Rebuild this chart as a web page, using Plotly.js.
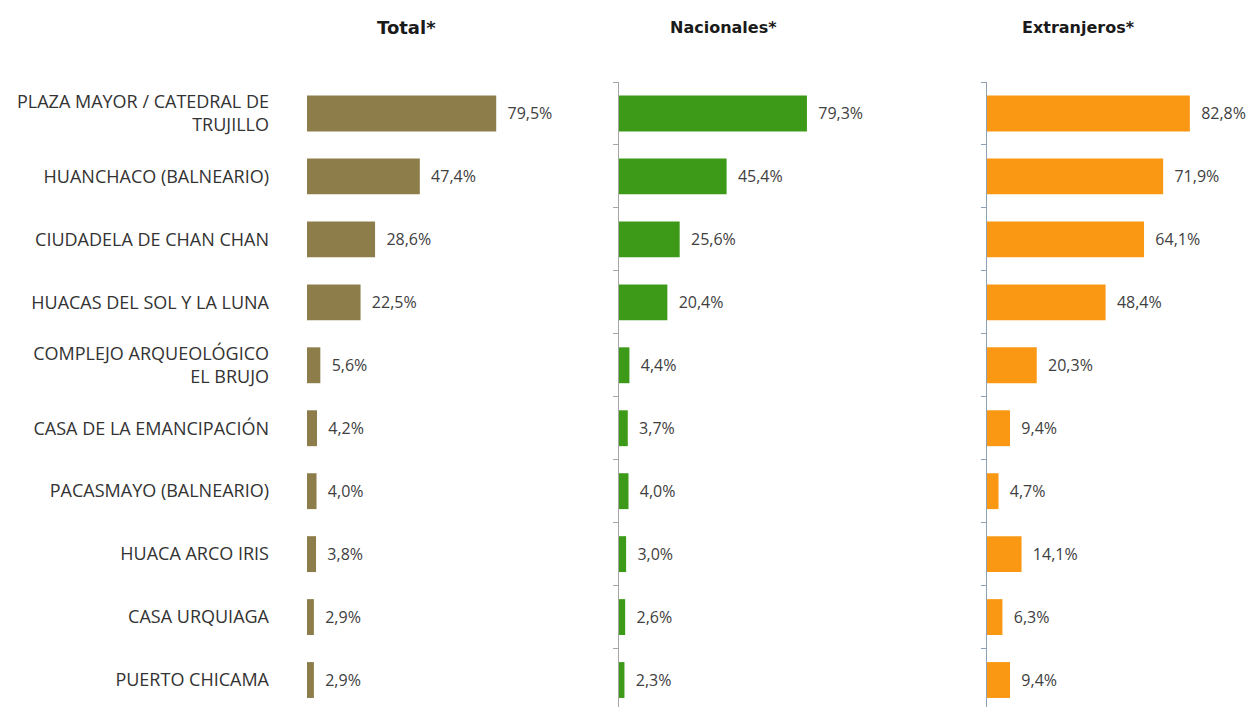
<!DOCTYPE html>
<html>
<head>
<meta charset="utf-8">
<script src="https://cdn.plot.ly/plotly-3.0.1.min.js"></script>
<style>html,body{margin:0;padding:0;background:#fff;}#chart{width:1256px;height:707px;}</style>
</head>
<body>
<div id="chart"></div>
<script>
const categories = [
  "PLAZA MAYOR / CATEDRAL DE<br>TRUJILLO",
  "HUANCHACO (BALNEARIO)",
  "CIUDADELA DE CHAN CHAN",
  "HUACAS DEL SOL Y LA LUNA",
  "COMPLEJO ARQUEOLÓGICO<br>EL BRUJO",
  "CASA DE LA EMANCIPACIÓN",
  "PACASMAYO (BALNEARIO)",
  "HUACA ARCO IRIS",
  "CASA URQUIAGA",
  "PUERTO CHICAMA"
];
const totalValues = [79.5, 47.4, 28.6, 22.5, 5.6, 4.2, 4.0, 3.8, 2.9, 2.9];
const nacionalesValues = [79.3, 45.4, 25.6, 20.4, 4.4, 3.7, 4.0, 3.0, 2.6, 2.3];
const extranjerosValues = [82.8, 71.9, 64.1, 48.4, 20.3, 9.4, 4.7, 14.1, 6.3, 9.4];
const panelTitles = ["Total*", "Nacionales*", "Extranjeros*"];

const W = 1256, H = 707, TOP = 81.5;
const colors = ["#8c7d4b", "#3c9a18", "#fb9813"];
const series = [totalValues, nacionalesValues, extranjerosValues];
const axSuffix = ["", "2", "3"];

const traces = series.map((vals, i) => ({
  type: "bar",
  orientation: "h",
  x: vals,
  y: categories,
  xaxis: "x" + axSuffix[i],
  yaxis: "y" + axSuffix[i],
  marker: {color: colors[i]},
  texttemplate: "\u00a0\u00a0%{x:.1f}%",
  textposition: "outside",
  cliponaxis: false,
  textfont: {family: "Open Sans, sans-serif", size: 16, color: "#404040"},
  hoverinfo: "skip"
}));

const px = v => v / W;
const domains = [[px(307), px(545)], [px(619), px(856)], [px(987), px(1232)]];
const yRange = [-0.5 + (H - TOP) / 63, -0.5];

const layout = {
  width: W, height: H,
  margin: {l: 0, r: 0, t: TOP, b: 0},
  paper_bgcolor: "#ffffff",
  plot_bgcolor: "#ffffff",
  separators: ",.",
  showlegend: false,
  bargap: 0.43,
  annotations: []
};

const titleX = [406, 723, 1078];
const titleSize = [18, 16, 16];
for (let i = 0; i < 3; i++) {
  const xa = "xaxis" + axSuffix[i];
  const ya = "yaxis" + axSuffix[i];
  layout[xa] = {
    domain: domains[i], range: [0, 100],
    showgrid: false, zeroline: false, showline: false,
    showticklabels: false, ticks: ""
  };
  layout[ya] = {
    type: "category",
    categoryorder: "array", categoryarray: categories,
    range: yRange,
    anchor: "x" + axSuffix[i],
    showgrid: false, zeroline: false,
    showline: i > 0,
    linecolor: i === 1 ? "#a6a6a6" : "#8fa0b5",
    linewidth: 1,
    ticks: i > 0 ? "outside" : "",
    tickson: "boundaries",
    ticklen: 5,
    tickcolor: i === 1 ? "#a6a6a6" : "#8fa0b5",
    showticklabels: i === 0,
    ticklabelstandoff: 37,
    tickfont: {family: "Open Sans, sans-serif", size: 18, color: "#333333"}
  };
  layout.annotations.push({
    text: "<b>" + panelTitles[i] + "</b>",
    xref: "paper", yref: "paper",
    x: titleX[i] / W, y: (H - 27) / (H - TOP),
    xanchor: "center", yanchor: "middle",
    showarrow: false,
    font: {family: "DejaVu Sans, sans-serif", size: titleSize[i], color: "#1a1a1a"}
  });
}

Plotly.newPlot("chart", traces, layout, {staticPlot: true});
</script>
</body>
</html>
